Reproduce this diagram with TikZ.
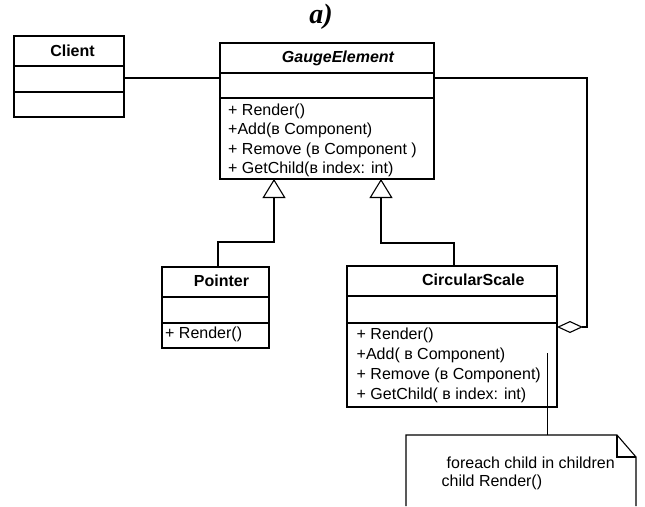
\documentclass[tikz,border=0pt]{standalone}
\usepackage{fontspec}
\setmainfont{Liberation Sans}
\newfontfamily\titlefont{Liberation Serif}
\usetikzlibrary{arrows.meta}
\begin{document}
\begin{tikzpicture}[x=1pt,y=-1pt,
  cls/.style={draw, line width=1.2pt, rectangle, inner sep=0pt, outer sep=0pt, anchor=north west},
  ttl/.style={inner sep=0pt, font=\fontsize{16}{19}\selectfont\bfseries},
  mth/.style={inner sep=0pt, anchor=west, font=\fontsize{16}{19}\selectfont},
  conn/.style={line width=1.1pt},
  divl/.style={line width=1.2pt},
  inh/.style={conn, -{Triangle[open, length=19pt, width=23pt, line width=1.1pt]}},
  agg/.style={conn, -{Diamond[open, length=26pt, width=12pt, line width=1.1pt]}}]
\fill[white] (0,0) rectangle (645,506);
\useasboundingbox (0,0) rectangle (645,506);

% title
\node[inner sep=0pt, font=\titlefont\bfseries\itshape\fontsize{28}{28}\selectfont] (title) at (321,17) {a)};

% Client
\node[cls, minimum width=110pt, minimum height=81pt] (client) at (14,36) {};
\draw[divl] ([yshift=-30pt]client.north west) -- ([yshift=-30pt]client.north east);
\draw[divl] ([yshift=-56pt]client.north west) -- ([yshift=-56pt]client.north east);
\node[ttl] (clientT) at (72.5,51) {Client};

% GaugeElement
\node[cls, minimum width=214pt, minimum height=136pt] (gauge) at (220,43) {};
\draw[divl] ([yshift=-30pt]gauge.north west) -- ([yshift=-30pt]gauge.north east);
\draw[divl] ([yshift=-55pt]gauge.north west) -- ([yshift=-55pt]gauge.north east);
\node[ttl, font=\fontsize{16}{19}\selectfont\bfseries\itshape] (gaugeT) at (338,58) {GaugeElement};
\node[mth] (gm1) at (228,111) {+ Render()};
\node[mth] (gm2) at (228,130) {+Add(в Component)};
\node[mth] (gm3) at (228,150) {+ Remove (в Component )};
\node[mth] (gm4) at (228,169) {+ GetChild(в index: int)};

% Pointer
\node[cls, minimum width=107pt, minimum height=81pt] (pointer) at (162,267) {};
\draw[divl] ([yshift=-30pt]pointer.north west) -- ([yshift=-30pt]pointer.north east);
\draw[divl] ([yshift=-56pt]pointer.north west) -- ([yshift=-56pt]pointer.north east);
\node[ttl] (pointerT) at (221.5,281) {Pointer};
\node[mth] (pm1) at (165,334) {+ Render()};

% CircularScale
\node[cls, minimum width=210pt, minimum height=141pt] (cscale) at (347,266) {};
\draw[divl] ([yshift=-30pt]cscale.north west) -- ([yshift=-30pt]cscale.north east);
\draw[divl] ([yshift=-57pt]cscale.north west) -- ([yshift=-57pt]cscale.north east);
\node[ttl] (cscaleT) at (473.3,280) {CircularScale};
\node[mth] (cm1) at (356.5,335) {+ Render()};
\node[mth] (cm2) at (356.5,355) {+Add( в Component)};
\node[mth] (cm3) at (356.5,375) {+ Remove (в Component)};
\node[mth] (cm4) at (356.5,395) {+ GetChild( в index: int)};

% Note
\node[inner sep=0pt, outer sep=0pt, minimum width=230pt, minimum height=71pt, anchor=north west] (note) at (406,435) {};
\draw[conn] (note.south west) -- (note.north west) -- ([xshift=-19pt]note.north east)
  -- ([yshift=-22pt]note.north east) -- (note.south east);
\draw[conn] ([xshift=-19pt]note.north east) -- ([xshift=-19pt,yshift=-22pt]note.north east)
  -- ([yshift=-22pt]note.north east);
\node[mth] (n1) at (446.5,463) {foreach child in children};
\node[mth] (n2) at (441.5,482) {child Render()};

% connectors
\draw[conn] ([yshift=-1.5pt]client.east) -- ([yshift=-1.5pt]client.east -| gauge.west);
\draw[inh] ([xshift=2.5pt]pointer.north) -- ++(0,-25) -| ([xshift=-53pt]gauge.south);
\draw[inh] ([xshift=2pt]cscale.north) -- ++(0,-23) -| ([xshift=54pt]gauge.south);
\coordinate (aggc) at (587,327);
\draw[agg] ([yshift=33pt]gauge.east) -| (aggc) -- ([yshift=9.5pt]cscale.east);
\coordinate (ncs) at (547.5,353);
\draw[conn] (ncs) -- (ncs |- note.north);
\end{tikzpicture}
\end{document}
